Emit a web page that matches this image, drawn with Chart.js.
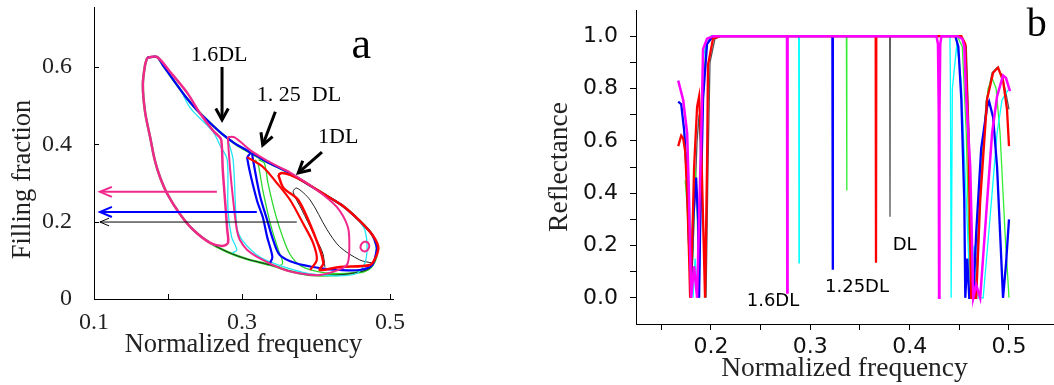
<!DOCTYPE html>
<html>
<head>
<meta charset="utf-8">
<script src="https://cdn.jsdelivr.net/npm/chart.js@4.4.0/dist/chart.umd.min.js"></script>
<style>
  body { margin: 0; background: #fff; width: 1054px; height: 385px; position: relative; overflow: hidden; }
  #chartA { position: absolute; left: 0; top: 0; }
  #chartB { position: absolute; left: 530px; top: 0; }
</style>
</head>
<body>
<canvas id="chartA" width="420" height="385"></canvas>
<canvas id="chartB" width="524" height="385"></canvas>
<script>
// ---- panel a : gap map (normalized frequency, filling fraction) ----
const xTicksA = [0.1, 0.2, 0.3, 0.4, 0.5];
const xTickLabelsA = ["0.1", "", "0.3", "", "0.5"];
const yTicksA = [0, 0.2, 0.4, 0.6];
const yTickLabelsA = ["0", "0.2", "0.4", "0.6"];

const envelopeA = [[.172,.624],[.185,.626],[.193,.605],[.207,.567],[.223,.525],[.239,.489],[.257,.455],[.273,.427],[.291,.401],[.311,.378],[.334,.354],[.361,.329],[.382,.305],[.415,.266],[.436,.241],[.459,.202],[.476,.166],[.482,.135],[.481,.106],[.473,.080],[.459,.070],[.428,.062],[.392,.062],[.369,.070],[.338,.088],[.307,.103],[.280,.122],[.257,.145],[.234,.179],[.216,.220],[.199,.272],[.189,.316],[.182,.360],[.176,.417],[.169,.484],[.166,.554],[.169,.605],[.172,.624]];
const magentaLeftA = [[.172,.624],[.185,.626],[.203,.587],[.226,.533],[.243,.481],[.261,.435],[.268,.422],[.272,.411],[.274,.334],[.277,.256],[.280,.179],[.281,.145],[.273,.137],[.257,.145],[.234,.179],[.216,.220],[.199,.272],[.189,.316],[.182,.360],[.176,.417],[.169,.484],[.166,.554],[.169,.605],[.172,.624]];
const magentaRightA = [[.281,.419],[.290,.418],[.311,.385],[.328,.364],[.347,.344],[.365,.327],[.401,.282],[.428,.238],[.443,.186],[.445,.135],[.443,.093],[.436,.080],[.405,.062],[.382,.065],[.358,.075],[.328,.101],[.307,.127],[.297,.153],[.293,.179],[.288,.256],[.284,.334],[.281,.411],[.281,.419]];
const magentaIslandA = [[.466,.149],[.470,.146],[.472,.137],[.470,.127],[.466,.123],[.462,.126],[.460,.134],[.462,.144],[.466,.149]];
const cyanLeftA = [[.216,.546],[.230,.494],[.261,.432],[.270,.398],[.280,.360],[.281,.230],[.286,.160],[.293,.127],[.287,.119]];
const cyanRightA = [[.281,.411],[.288,.360],[.293,.186],[.300,.153],[.320,.114],[.338,.096],[.370,.075],[.392,.065],[.428,.060],[.455,.066],[.466,.093],[.469,.135],[.466,.179],[.459,.200]];
const blueLeftA = [[.172,.624],[.185,.626],[.193,.605],[.207,.567],[.223,.525],[.239,.489],[.257,.455],[.273,.427],[.291,.401],[.311,.378],[.307,.365],[.320,.256],[.328,.212],[.334,.160],[.341,.109],[.338,.093]];
const blueRightA = [[.314,.378],[.314,.370],[.324,.269],[.334,.204],[.342,.153],[.351,.114],[.372,.093],[.405,.080],[.432,.075],[.459,.075],[.476,.088],[.482,.127],[.482,.135],[.476,.166],[.459,.202],[.436,.241],[.415,.266],[.382,.305],[.361,.329],[.334,.354],[.314,.378]];
const greenLeftA = [[.318,.360],[.322,.347],[.328,.282],[.338,.197],[.349,.127],[.355,.093],[.349,.083]];
const greenRightA = [[.322,.360],[.330,.352],[.335,.300],[.345,.220],[.355,.160],[.365,.115],[.380,.085],[.410,.068],[.440,.066],[.465,.070],[.478,.090]];
const redLeftA = [[.307,.367],[.328,.342],[.347,.300],[.365,.256],[.382,.197],[.396,.145],[.401,.101],[.392,.075]];
const redRightA = [[.349,.321],[.356,.287],[.376,.256],[.399,.160],[.410,.093],[.405,.075],[.432,.083],[.473,.088],[.481,.109],[.484,.135],[.476,.166],[.459,.202],[.436,.241],[.415,.266],[.382,.305],[.365,.321],[.354,.326],[.349,.321]];
const blackLoopA = [[.412,.083],[.409,.119],[.396,.171],[.381,.230],[.369,.277],[.374,.287],[.392,.256],[.415,.179],[.432,.135],[.459,.101],[.476,.093]];

const arrowTailsA = [[.266,.277],[.320,.225],[.374,.199],[.273,.600],[.345,.484],[.408,.380]];
const arrowTipsA = [[.108,.277],[.108,.225],[.108,.199],[.273,.463],[.328,.398],[.376,.326]];
const labelTextsA = ["1.6DL", "1. 25  DL", "1DL", "a"];
const labelAtA = [[.269,.631],[.377,.528],[.430,.419],[.461,.652]];

// ---- panel b : reflectance spectra ----
const xTicksB = [0.15, 0.2, 0.25, 0.3, 0.35, 0.4, 0.45, 0.5];
const xTickLabelsB = ["", "0.2", "", "0.3", "", "0.4", "", "0.5"];
const yTicksB = [0, 0.1, 0.2, 0.3, 0.4, 0.5, 0.6, 0.7, 0.8, 0.9, 1.0];
const yTickLabelsB = ["0.0", "", "0.2", "", "0.4", "", "0.6", "", "0.8", "", "1.0"];

const magentaB = [[.167,.83],[.172,.756],[.176,.63],[.177,.50],[.178,.37],[.179,.18],[.180,0],[.183,.12],[.186,0],[.188,.3],[.191,.76],[.192,.95],[.196,.99],[.202,1],[.2765,1],[.2768,.02],[.2771,1],[.427,1],[.4285,.97],[.4293,.7],[.4296,0],[.4300,.7],[.4308,.97],[.432,1],[.448,1],[.453,.99],[.455,.96],[.457,.76],[.461,.5],[.464,0],[.467,.05],[.471,0],[.478,.37],[.483,.63],[.488,.77],[.494,.85],[.497,.84],[.501,.79]];
const cyanB = [[.167,.83],[.172,.75],[.176,.62],[.178,.4],[.180,.15],[.182,0],[.184,.15],[.186,.05],[.188,0],[.190,.5],[.192,.9],[.195,.98],[.200,1],[.2883,1],[.2886,.134],[.2889,1],[.4405,1],[.441,.85],[.4418,0],[.443,.8],[.4474,.966],[.450,.9],[.452,.82],[.457,.37],[.461,0],[.465,.2],[.469,0],[.474,0],[.481,.31],[.488,.63],[.493,.756],[.499,.794]];
const blueB = [[.167,.75],[.170,.74],[.173,.64],[.176,.45],[.178,.2],[.180,.05],[.182,.3],[.185,.46],[.187,.3],[.188,0],[.189,.25],[.192,.76],[.196,.97],[.202,1],[.3222,1],[.3225,.107],[.3228,1],[.446,1],[.449,.96],[.452,.76],[.455,.37],[.456,0],[.458,.15],[.460,0],[.464,0],[.467,.25],[.472,.57],[.478,.73],[.480,.75],[.484,.69],[.488,.5],[.491,.25],[.494,0],[.497,.13],[.500,.3]];
const greenB = [[.174,.45],[.176,.35],[.178,.15],[.180,0],[.182,.2],[.184,.5],[.186,.35],[.188,0],[.190,.4],[.192,.8],[.195,.96],[.200,1],[.3363,1],[.3366,.41],[.3369,1],[.448,1],[.453,.96],[.457,.63],[.461,0],[.467,0],[.471,.37],[.476,.69],[.479,.8],[.483,.84],[.487,.8],[.491,.63],[.496,.25],[.500,0]];
const redB = [[.167,.58],[.170,.62],[.172,.61],[.174,.56],[.176,.4],[.178,.15],[.179,0],[.181,.2],[.183,.5],[.186,.73],[.188,.77],[.190,.6],[.192,.3],[.194,0],[.196,.5],[.197,.89],[.202,.99],[.209,1],[.3658,1],[.3661,.134],[.3664,1],[.452,1],[.456,.97],[.459,.63],[.462,0],[.467,0],[.471,.37],[.478,.76],[.484,.86],[.489,.88],[.494,.83],[.498,.72],[.500,.58]];
const blackB = [[.175,.5],[.178,.2],[.180,0],[.183,.3],[.186,.6],[.188,.7],[.190,.5],[.193,.2],[.195,0],[.197,.5],[.199,.9],[.204,.99],[.210,1],[.3799,1],[.3802,.31],[.3805,1],[.452,1],[.457,.96],[.460,.6],[.463,0],[.466,0],[.470,.35],[.477,.75],[.483,.86],[.488,.88],[.493,.85],[.497,.78],[.500,.72]];

const labelTextsB = ["1.6DL", "1.25DL", "DL", "b"];
const labelAtB = [[.2624,-.015],[.347,.042],[.395,.202],[.528,1.042]];

// dessine fleches, textes et petits traits internes
const notesPlugin = {
    id: "notes",
    afterDraw(chart, args, opts) {
        const ctx = chart.ctx;
        const xs = chart.scales.x, ys = chart.scales.y;
        const px = p => [xs.getPixelForValue(p[0]), ys.getPixelForValue(p[1])];
        ctx.save();
        if (opts.innerTicks) {
            ctx.strokeStyle = "#000";
            ctx.lineWidth = 1;
            const area = chart.chartArea;
            ctx.beginPath();
            xs.ticks.forEach(t => {
                const x = Math.round(xs.getPixelForValue(t.value)) + 0.5;
                if (x > area.left + 2) { ctx.moveTo(x, area.bottom); ctx.lineTo(x, area.bottom - 5); }
            });
            ys.ticks.forEach(t => {
                const y = Math.round(ys.getPixelForValue(t.value)) + 0.5;
                if (y < area.bottom - 2) { ctx.moveTo(area.left, y); ctx.lineTo(area.left + 5, y); }
            });
            ctx.stroke();
        }
        (opts.tails || []).forEach((tail, i) => {
            const st = opts.arrowStyles[i];
            const [x0, y0] = px(tail), [x1, y1] = px(opts.tips[i]);
            ctx.strokeStyle = st.color;
            ctx.lineWidth = st.width;
            ctx.lineCap = "butt";
            ctx.beginPath(); ctx.moveTo(x0, y0); ctx.lineTo(x1, y1); ctx.stroke();
            const ang = Math.atan2(y1 - y0, x1 - x0);
            ctx.beginPath();
            ctx.moveTo(x1 - st.head * Math.cos(ang - st.spread), y1 - st.head * Math.sin(ang - st.spread));
            ctx.lineTo(x1, y1);
            ctx.lineTo(x1 - st.head * Math.cos(ang + st.spread), y1 - st.head * Math.sin(ang + st.spread));
            ctx.stroke();
        });
        (opts.texts || []).forEach((txt, i) => {
            const [x, y] = px(opts.at[i]);
            ctx.font = opts.fonts[i];
            ctx.fillStyle = "#000";
            ctx.textAlign = "center";
            ctx.textBaseline = "middle";
            ctx.fillText(txt, x, y);
        });
        ctx.restore();
    }
};

function serie(data, color, width) {
    return { data: data, borderColor: color, backgroundColor: color, borderWidth: width, showLine: true, pointRadius: 0, fill: false };
}

// pas de marge auto au-dessus/dessous de l'axe vertical
function fixY(width) {
    return s => { s.width = width; s.paddingTop = 0; s.paddingBottom = 0; };
}

const PINK = "#f0288c", CYAN = "#22e4f4", BLUE = "#0000ff", GREEN = "#2ed82e", RED = "#ff0000";

new Chart(document.getElementById("chartA"), {
    type: "scatter",
    data: {
        datasets: [
            serie(magentaLeftA, PINK, 2.5),
            serie(magentaRightA, PINK, 2),
            serie(magentaIslandA, PINK, 2),
            serie(redLeftA, RED, 2.2),
            serie(redRightA, RED, 2.5),
            serie(blueLeftA, BLUE, 2.2),
            serie(blueRightA, BLUE, 2.2),
            serie(cyanLeftA, CYAN, 1.3),
            serie(cyanRightA, CYAN, 1.3),
            serie(blackLoopA, "#222", 1),
            serie(envelopeA, "#222", 1),
            serie(greenLeftA, GREEN, 1.3),
            serie(greenRightA, GREEN, 1.3),
            serie(envelopeA, GREEN, 2.4)
        ]
    },
    options: {
        responsive: false,
        animation: false,
        events: [],
        layout: { padding: { top: 7, right: 27, left: 0, bottom: 0 } },
        elements: { line: { tension: 0.3 } },
        plugins: {
            legend: { display: false },
            tooltip: { enabled: false },
            notes: {
                innerTicks: true,
                tails: arrowTailsA,
                tips: arrowTipsA,
                arrowStyles: [
                    { color: PINK, width: 2, head: 13, spread: 0.4 },
                    { color: BLUE, width: 2, head: 13, spread: 0.4 },
                    { color: "#000", width: 1, head: 10, spread: 0.4 },
                    { color: "#000", width: 3, head: 13, spread: 0.5 },
                    { color: "#000", width: 3, head: 13, spread: 0.5 },
                    { color: "#000", width: 3, head: 13, spread: 0.5 }
                ],
                texts: labelTextsA,
                at: labelAtA,
                fonts: ["22px 'Liberation Serif'", "22px 'Liberation Serif'", "22px 'Liberation Serif'", "44px 'Liberation Serif'"]
            }
        },
        scales: {
            x: {
                type: "linear", min: 0.1, max: 0.504,
                afterBuildTicks: s => { s.ticks = xTicksA.map(v => ({ value: v })); },
                afterFit: s => { s.height = 86; },
                grid: { display: false, drawTicks: false },
                border: { display: true, color: "#000", width: 1 },
                ticks: { autoSkip: false, maxRotation: 0, padding: 9, color: "#222",
                    font: { family: "Liberation Serif", size: 24 },
                    callback: (v, i) => xTickLabelsA[i] },
                title: { display: true, text: "Normalized frequency", color: "#222",
                    font: { family: "Liberation Serif", size: 26.5, lineHeight: 1.2 },
                    padding: { top: 0, bottom: 24 } }
            },
            y: {
                type: "linear", min: 0, max: 0.755,
                afterBuildTicks: s => { s.ticks = yTicksA.map(v => ({ value: v })); },
                afterFit: fixY(94),
                grid: { display: false, drawTicks: false },
                border: { display: true, color: "#000", width: 1 },
                ticks: { autoSkip: false, padding: 22, color: "#222",
                    font: { family: "Liberation Serif", size: 24 },
                    callback: (v, i) => yTickLabelsA[i] },
                title: { display: true, text: "Filling fraction        ", color: "#222",
                    font: { family: "Liberation Serif", size: 26.5, lineHeight: 1.2 },
                    padding: { top: 7, bottom: 0 } }
            }
        }
    },
    plugins: [notesPlugin]
});

new Chart(document.getElementById("chartB"), {
    type: "scatter",
    data: {
        datasets: [
            serie(magentaB, "#ff00ff", 2.5),
            serie(redB, RED, 2.3),
            serie(blueB, BLUE, 2.3),
            serie(cyanB, "#00ffff", 1.3),
            serie(greenB, "#33ee33", 1.3),
            serie(blackB, "#555", 1.3)
        ]
    },
    options: {
        responsive: false,
        animation: false,
        events: [],
        layout: { padding: { top: 10, right: 1, left: 0, bottom: 0 } },
        elements: { line: { tension: 0 } },
        plugins: {
            legend: { display: false },
            tooltip: { enabled: false },
            notes: {
                texts: labelTextsB,
                at: labelAtB,
                fonts: ["18px 'DejaVu Sans'", "18px 'DejaVu Sans'", "18px 'DejaVu Sans'", "40px 'Liberation Serif'"]
            }
        },
        scales: {
            x: {
                type: "linear", min: 0.1245, max: 0.5443,
                afterBuildTicks: s => { s.ticks = xTicksB.map(v => ({ value: v })); },
                afterFit: s => { s.height = 61; },
                grid: { display: true, drawOnChartArea: false, drawTicks: true, tickLength: 6, color: "#000" },
                border: { display: true, color: "#000", width: 1 },
                ticks: { autoSkip: false, maxRotation: 0, padding: 4, color: "#111",
                    font: { family: "DejaVu Sans", size: 22 },
                    callback: (v, i) => xTickLabelsB[i] },
                title: { display: true, text: "Normalized frequency", color: "#222",
                    font: { family: "Liberation Serif", size: 27.5, lineHeight: 1.2 },
                    padding: { top: 0, bottom: 0 } }
            },
            y: {
                type: "linear", min: -0.1, max: 1.1,
                afterBuildTicks: s => { s.ticks = yTicksB.map(v => ({ value: v })); },
                afterFit: fixY(106),
                grid: { display: true, drawOnChartArea: false, drawTicks: true, tickLength: 6, color: "#000" },
                border: { display: true, color: "#000", width: 1 },
                ticks: { autoSkip: false, padding: 12, color: "#111",
                    font: { family: "DejaVu Sans", size: 22 },
                    callback: (v, i) => yTickLabelsB[i] },
                title: { display: true, text: "Reflectance", color: "#222",
                    font: { family: "Liberation Serif", size: 27.5, lineHeight: 1.2 },
                    padding: { top: 13, bottom: 0 } }
            }
        }
    },
    plugins: [notesPlugin]
});
</script>
</body>
</html>
